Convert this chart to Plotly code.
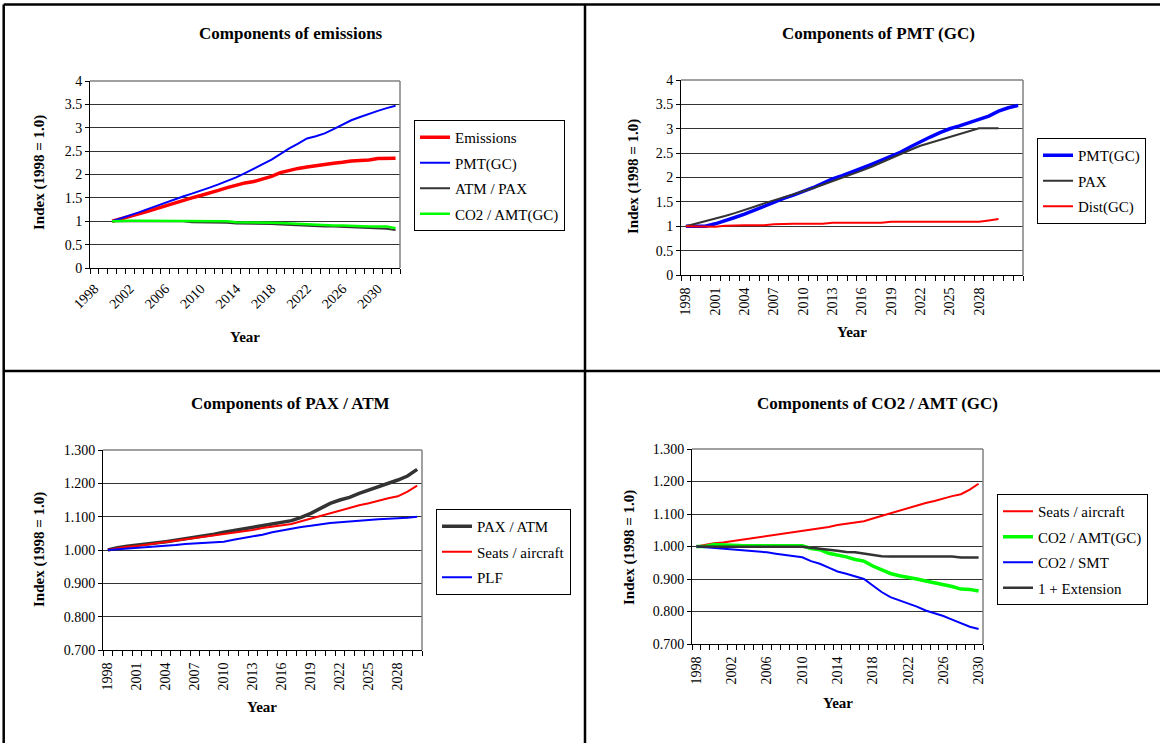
import plotly.graph_objects as go

# ---------------- DATA ----------------
# Panel 1: Components of emissions (series start in 2000)
p1_years = list(range(2000, 2033))
p1_emissions = [1.00, 1.05, 1.10, 1.16, 1.21, 1.27, 1.33, 1.39, 1.45, 1.50, 1.55, 1.60, 1.66,
                1.72, 1.77, 1.82, 1.85, 1.90, 1.96, 2.04, 2.09, 2.13, 2.16, 2.19, 2.21, 2.24,
                2.26, 2.29, 2.30, 2.31, 2.34, 2.35, 2.35]
p1_pmt = [1.00, 1.06, 1.12, 1.19, 1.26, 1.33, 1.40, 1.47, 1.53, 1.59, 1.65, 1.72, 1.79, 1.86,
          1.94, 2.03, 2.12, 2.22, 2.32, 2.44, 2.56, 2.66, 2.77, 2.82, 2.88, 2.97, 3.07, 3.16,
          3.23, 3.30, 3.36, 3.42, 3.47]
p1_atm_pax = [1.00, 1.00, 1.00, 1.00, 1.00, 1.00, 1.00, 1.00, 1.00, 0.98, 0.98, 0.97, 0.97,
              0.97, 0.95, 0.95, 0.95, 0.95, 0.94, 0.93, 0.92, 0.92, 0.91, 0.90, 0.89, 0.89,
              0.88, 0.87, 0.86, 0.86, 0.84, 0.84, 0.81]
p1_co2_amt = [1.00, 1.01, 1.01, 1.01, 1.01, 1.01, 1.01, 1.01, 1.01, 1.01, 1.01, 1.01, 1.01,
              1.00, 0.98, 0.98, 0.98, 0.98, 0.97, 0.96, 0.95, 0.95, 0.93, 0.92, 0.92, 0.91,
              0.91, 0.90, 0.90, 0.89, 0.89, 0.89, 0.85]
p1_tick_years = [1998, 2002, 2006, 2010, 2014, 2018, 2022, 2026, 2030]

# Panel 2: Components of PMT (GC)
p2_years_pmt = list(range(1998, 2033))
p2_pmt = [1.00, 1.00, 1.00, 1.05, 1.11, 1.18, 1.25, 1.33, 1.42, 1.50, 1.57, 1.64, 1.71, 1.79,
          1.88, 1.97, 2.04, 2.11, 2.19, 2.27, 2.35, 2.43, 2.52, 2.63, 2.74, 2.83, 2.92, 3.00,
          3.06, 3.13, 3.19, 3.26, 3.36, 3.43, 3.48]
p2_years = list(range(1998, 2031))
p2_pax = [1.00, 1.05, 1.10, 1.15, 1.21, 1.27, 1.33, 1.40, 1.47, 1.53, 1.60, 1.65, 1.71, 1.78,
          1.85, 1.92, 1.99, 2.06, 2.14, 2.22, 2.31, 2.40, 2.49, 2.57, 2.65, 2.71, 2.77, 2.83,
          2.90, 2.96, 3.01, 3.01, 3.01]
p2_dist = [1.00, 1.00, 1.00, 0.99, 1.01, 1.02, 1.02, 1.02, 1.02, 1.04, 1.05, 1.05, 1.05, 1.05,
           1.05, 1.07, 1.07, 1.07, 1.07, 1.07, 1.07, 1.09, 1.09, 1.09, 1.09, 1.09, 1.09, 1.09,
           1.09, 1.09, 1.09, 1.12, 1.15]
p2_tick_years = [1998, 2001, 2004, 2007, 2010, 2013, 2016, 2019, 2022, 2025, 2028]

# Panels 3 & 4 share years 1998-2030
p34_years = list(range(1998, 2031))
p3_pax_atm = [1.000, 1.007, 1.011, 1.014, 1.018, 1.022, 1.025, 1.029, 1.033, 1.037,
              1.043, 1.047, 1.053, 1.058, 1.062, 1.068, 1.073, 1.077, 1.082, 1.088,
              1.098, 1.110, 1.125, 1.140, 1.150, 1.158, 1.170, 1.180, 1.188, 1.198,
              1.210, 1.222, 1.242]
seats_per_aircraft = [1.000, 1.005, 1.010, 1.012, 1.016, 1.020, 1.022, 1.026, 1.031, 1.035,
                      1.039, 1.043, 1.047, 1.050, 1.056, 1.060, 1.066, 1.070, 1.074, 1.078,
                      1.086, 1.094, 1.103, 1.110, 1.117, 1.126, 1.134, 1.140, 1.148, 1.155,
                      1.161, 1.175, 1.193]
p3_plf = [1.000, 1.002, 1.004, 1.005, 1.008, 1.010, 1.012, 1.015, 1.018, 1.020,
          1.021, 1.023, 1.025, 1.031, 1.036, 1.040, 1.046, 1.053, 1.059, 1.064,
          1.069, 1.073, 1.078, 1.081, 1.083, 1.086, 1.088, 1.090, 1.092, 1.093,
          1.094, 1.097, 1.100]
p3_tick_years = [1998, 2001, 2004, 2007, 2010, 2013, 2016, 2019, 2022, 2025, 2028]

p4_co2_amt = [1.000, 1.000, 1.006, 1.006, 1.004, 1.003, 1.003, 1.003, 1.003, 1.003,
              1.003, 1.003, 1.002, 0.994, 0.990, 0.979, 0.974, 0.968, 0.960, 0.955,
              0.940, 0.928, 0.917, 0.910, 0.906, 0.900, 0.894, 0.889, 0.884, 0.877,
              0.869, 0.868, 0.863]
p4_co2_smt = [1.000, 0.998, 0.996, 0.994, 0.991, 0.990, 0.987, 0.985, 0.982, 0.978,
              0.974, 0.971, 0.967, 0.955, 0.947, 0.935, 0.923, 0.916, 0.908, 0.900,
              0.880, 0.860, 0.844, 0.834, 0.826, 0.815, 0.803, 0.795, 0.786, 0.775,
              0.764, 0.753, 0.746]
p4_extension = [1.000, 0.999, 0.999, 0.999, 0.999, 0.999, 0.999, 0.999, 0.999, 0.999,
                0.999, 0.999, 0.999, 0.996, 0.994, 0.990, 0.987, 0.983, 0.982, 0.978,
                0.974, 0.970, 0.969, 0.969, 0.969, 0.969, 0.969, 0.969, 0.969, 0.969,
                0.966, 0.966, 0.966]
p4_tick_years = [1998, 2002, 2006, 2010, 2014, 2018, 2022, 2026, 2030]

# ---------------- LAYOUT HELPERS ----------------
W, H = 1160, 743
FONT = "Liberation Serif"
RED, BLUE, GREEN, DARK = "#FF0000", "#0000FF", "#00FF00", "#333333"


def px_x(p):
    return p / W


def px_y(p):
    return 1 - p / H


fig = go.Figure()

panels = [
    dict(ax="", x=(90, 400), y=(81, 268), xr=(1997.5, 2032.5), yr=(0, 4), dt=0.5, fmt="",
         ticks=p1_tick_years, angle=-45),
    dict(ax="2", x=(681, 1023), y=(80, 275), xr=(1997.5, 2032.5), yr=(0, 4), dt=0.5, fmt="",
         ticks=p2_tick_years, angle=-90),
    dict(ax="3", x=(103, 422), y=(450, 650), xr=(1997.5, 2030.5), yr=(0.7, 1.3), dt=0.1,
         fmt=".3f", ticks=p3_tick_years, angle=-90),
    dict(ax="4", x=(692, 983), y=(449, 644), xr=(1997.5, 2030.5), yr=(0.7, 1.3), dt=0.1,
         fmt=".3f", ticks=p4_tick_years, angle=-90),
]

layout = {}
for p in panels:
    xa = "xaxis" + p["ax"]
    ya = "yaxis" + p["ax"]
    layout[xa] = dict(
        domain=[px_x(p["x"][0]), px_x(p["x"][1])],
        anchor="y" + p["ax"],
        range=list(p["xr"]),
        tickmode="array",
        tickvals=p["ticks"],
        ticktext=[str(t) for t in p["ticks"]],
        ticks="outside", ticklen=6, tickcolor="rgba(0,0,0,0)",
        tickangle=p["angle"],
        tickfont=dict(family=FONT, size=14, color="black"),
        showgrid=False, zeroline=False,
        showline=True, linecolor="black", linewidth=1,
        minor=dict(tickmode="linear", tick0=1997.5, dtick=1, ticks="outside",
                   ticklen=5, tickcolor="black", tickwidth=1, showgrid=False),
        automargin=False,
        fixedrange=True,
    )
    layout[ya] = dict(
        domain=[px_y(p["y"][1]), px_y(p["y"][0])],
        anchor="x" + p["ax"],
        range=list(p["yr"]),
        tickmode="linear", tick0=p["yr"][0], dtick=p["dt"],
        tickformat=p["fmt"],
        ticks="outside", ticklen=4, tickcolor="black",
        tickfont=dict(family=FONT, size=14, color="black"),
        showgrid=True, gridcolor="#333333", gridwidth=1,
        zeroline=False,
        showline=True, linecolor="black", linewidth=1,
        automargin=False,
        fixedrange=True,
    )


def add(xs, ys, name, color, width, ax, legend):
    fig.add_trace(go.Scatter(
        x=xs, y=ys, name=name, mode="lines",
        line=dict(color=color, width=width),
        xaxis="x" + ax, yaxis="y" + ax, legend=legend,
        legendgroup=legend + name,
    ))


add(p1_years, p1_emissions, "Emissions", RED, 3.5, "", "legend")
add(p1_years, p1_pmt, "PMT(GC)", BLUE, 2, "", "legend")
add(p1_years, p1_atm_pax, "ATM / PAX", DARK, 2, "", "legend")
add(p1_years, p1_co2_amt, "CO2 / AMT(GC)", GREEN, 2.5, "", "legend")

add(p2_years_pmt, p2_pmt, "PMT(GC)", BLUE, 3.5, "2", "legend2")
add(p2_years, p2_pax, "PAX", DARK, 2, "2", "legend2")
add(p2_years, p2_dist, "Dist(GC)", RED, 2, "2", "legend2")

add(p34_years, p3_pax_atm, "PAX / ATM", DARK, 3.5, "3", "legend3")
add(p34_years, seats_per_aircraft, "Seats / aircraft", RED, 2, "3", "legend3")
add(p34_years, p3_plf, "PLF", BLUE, 2, "3", "legend3")

add(p34_years, seats_per_aircraft, "Seats / aircraft", RED, 2, "4", "legend4")
add(p34_years, p4_co2_amt, "CO2 / AMT(GC)", GREEN, 3.5, "4", "legend4")
add(p34_years, p4_co2_smt, "CO2 / SMT", BLUE, 2, "4", "legend4")
add(p34_years, p4_extension, "1 + Extension", DARK, 2.5, "4", "legend4")

legend_style = dict(
    xanchor="left", yanchor="top",
    bgcolor="white", bordercolor="black", borderwidth=1,
    font=dict(family=FONT, size=15, color="black"),
    traceorder="grouped", tracegroupgap=3, itemsizing="trace",
)
layout["legend"] = dict(x=px_x(414), y=px_y(120), **legend_style)
layout["legend2"] = dict(x=px_x(1037), y=px_y(138), **legend_style)
layout["legend3"] = dict(x=px_x(436), y=px_y(509), **legend_style)
layout["legend4"] = dict(x=px_x(997), y=px_y(494), **legend_style)

annotations = []


def text(x, y, s, size, angle=0):
    annotations.append(dict(
        x=px_x(x), y=px_y(y), xref="paper", yref="paper", text="<b>%s</b>" % s,
        showarrow=False, textangle=angle, xanchor="center", yanchor="middle",
        font=dict(family=FONT, size=size, color="black"),
    ))


text(291, 34, "Components of emissions", 17)
text(878, 34, "Components of PMT (GC)", 17)
text(291, 403, "Components of PAX / ATM", 17)
text(877, 403, "Components of CO2 / AMT (GC)", 17)
for (x, y) in [(39, 173), (633, 177), (39, 550), (629, 547)]:
    text(x, y, "Index (1998 = 1.0)", 15, -90)
for (x, y) in [(245, 337), (852, 332), (262, 707), (838, 703)]:
    text(x, y, "Year", 15)

shapes = []
for (x0, y0, x1, y1) in [(3.7, 4.5, 1160, 4.5), (3.7, 4.5, 3.7, 743), (585, 4.5, 585, 743),
                         (3.7, 371, 1160, 371)]:
    shapes.append(dict(type="line", xref="paper", yref="paper",
                       x0=px_x(x0), y0=px_y(y0), x1=px_x(x1), y1=px_y(y1),
                       line=dict(color="black", width=2.5)))
for p in panels:
    xr = "x" + p["ax"] + " domain"
    yr = "y" + p["ax"] + " domain"
    shapes.append(dict(type="line", xref=xr, yref=yr, x0=0, y0=1, x1=1, y1=1,
                       line=dict(color="#808080", width=1.5)))
    shapes.append(dict(type="line", xref=xr, yref=yr, x0=1, y0=0, x1=1, y1=1,
                       line=dict(color="#808080", width=1.5)))

fig.update_layout(
    width=W, height=H, autosize=False,
    margin=dict(l=0, r=0, t=0, b=0, pad=0, autoexpand=False),
    paper_bgcolor="white", plot_bgcolor="white",
    showlegend=True,
    annotations=annotations, shapes=shapes,
    **layout,
)

fig.write_html("out.html")
